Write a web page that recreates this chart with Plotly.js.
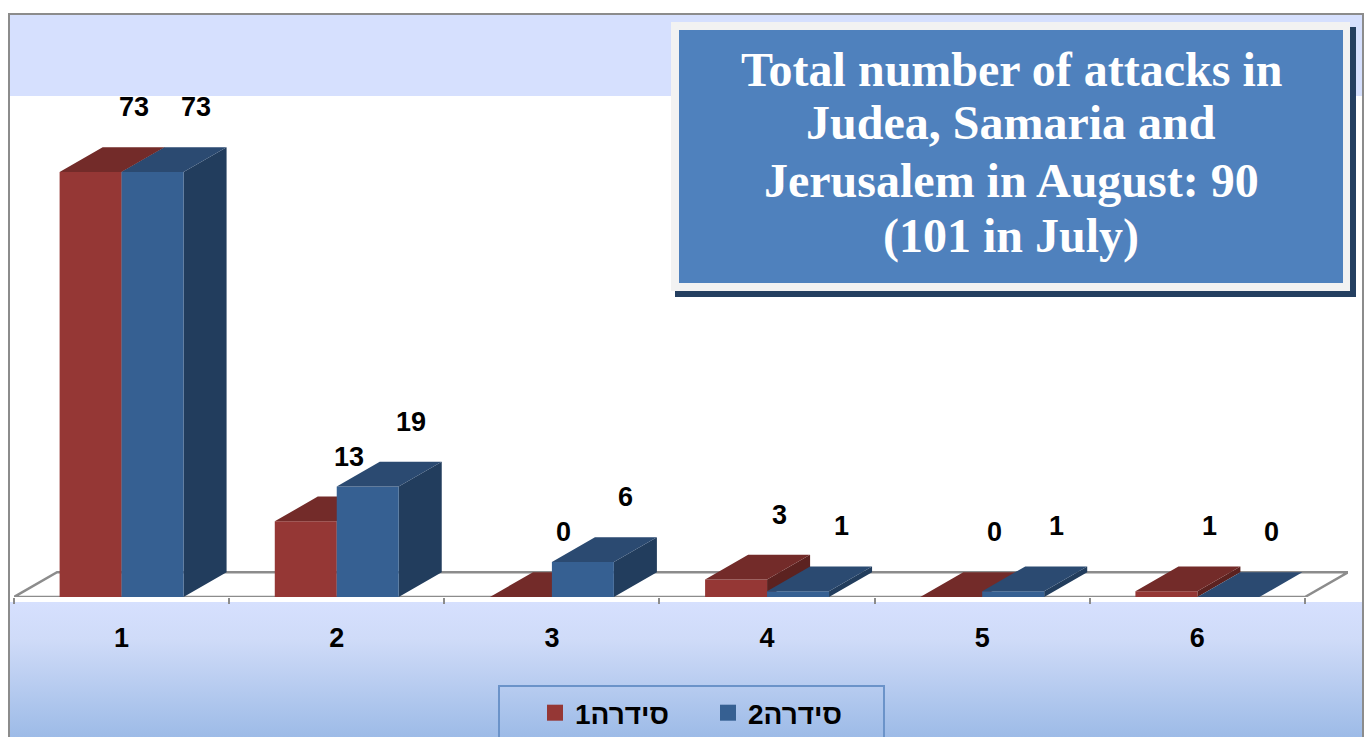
<!DOCTYPE html>
<html>
<head>
<meta charset="utf-8">
<script src="https://cdn.plot.ly/plotly-3.0.1.min.js"></script>
<style>
  body { margin: 0; background: #fff; }
  #wrap { position: relative; width: 1367px; height: 737px; overflow: hidden; }
  #frame {
    position: absolute; left: 8px; top: 13px; width: 1356px; height: 730px;
    box-sizing: border-box; border: 2px solid #8c8c8c; border-bottom: none;
    background: linear-gradient(to bottom,
      #d6e0fe 0px, #d6e0fe 81px, #ffffff 81px, #ffffff 587px,
      #d6e0fe 587px, #cfdbf8 625px, #9dbbe7 722px);
  }
  #grafico { position: absolute; left: 0; top: 0; width: 1367px; height: 737px; }
</style>
</head>
<body>
<div id="wrap">
  <div id="frame"></div>
  <div id="grafico"></div>
</div>
<script>
// Ataques por categoria, duas séries (rótulos padrão do Excel em hebraico)
const categorias = [1, 2, 3, 4, 5, 6];
const serie1 = [73, 13, 0, 3, 0, 1];
const serie2 = [73, 19, 6, 1, 1, 0];
const nomes = ["סידרה1", "סידרה2"];
const tituloLinhas = [
  "Total number of attacks in",
  "Judea, Samaria and",
  "Jerusalem in August: 90",
  "(101 in July)"
];

// geometria do "3D" (em unidades de eixo)
const LARG = 0.288;   // largura de cada barra
const DX = 0.2;       // profundidade horizontal
const DY = 4.25;      // profundidade vertical
const margem = { l: 14, r: 19, t: 96, b: 140 };
const W = 1367 - margem.l - margem.r;
const H = 737 - margem.t - margem.b;
const yMax = 86.05;

const cores = [
  { frente: "#953735", topo: "#732b29", lado: "#5c2220" },
  { frente: "#366092", topo: "#2b4a71", lado: "#223d5d" }
];

// pixel -> coordenada paper
function px(x) { return (x - margem.l) / W; }
function py(y) { return (737 - margem.b - y) / H; }

function poligonos(valores, desloc, face) {
  const xs = [], ys = [];
  categorias.forEach((c, i) => {
    const v = valores[i];
    const x0 = c + desloc, x1 = x0 + LARG;
    let pts;
    if (face === "frente") pts = [[x0, 0], [x1, 0], [x1, v], [x0, v]];
    if (face === "topo") pts = [[x0, v], [x1, v], [x1 + DX, v + DY], [x0 + DX, v + DY]];
    if (face === "lado") pts = [[x1, 0], [x1 + DX, DY], [x1 + DX, v + DY], [x1, v]];
    pts.forEach(p => { xs.push(p[0]); ys.push(p[1]); });
    xs.push(null); ys.push(null);
  });
  return { xs, ys };
}

const data = [];

// piso
data.push({
  x: [0.5, 6.5, 6.5 + DX, 0.5 + DX, 0.5],
  y: [0, 0, DY, DY, 0],
  type: "scatter", mode: "lines", fill: "toself", fillcolor: "#ffffff",
  line: { color: "#8c8c8c", width: 2.5 },
  hoverinfo: "skip", showlegend: false
});

[serie1, serie2].forEach((valores, s) => {
  const desloc = s === 0 ? -LARG : 0;
  ["lado", "frente", "topo"].forEach(face => {
    const p = poligonos(valores, desloc, face);
    data.push({
      x: p.xs, y: p.ys, type: "scatter", mode: "lines",
      fill: "toself", fillcolor: cores[s][face],
      line: { width: 0, color: cores[s][face] },
      legendgroup: "s" + s, showlegend: false, hoverinfo: "skip"
    });
  });
});

// entradas da legenda
nomes.forEach((nome, s) => {
  data.push({
    x: [null], y: [null], type: "scatter", mode: "markers", name: nome,
    marker: { symbol: "square", size: 16, color: cores[s].frente },
    legendgroup: "s" + s
  });
});

// eixo auxiliar só para os traços nos limites das categorias
data.push({
  x: [0.5], y: [0], xaxis: "x2", type: "scatter", mode: "markers",
  marker: { opacity: 0 }, showlegend: false, hoverinfo: "skip"
});

const fonteRotulo = { family: "Liberation Sans, Arial, sans-serif", size: 27, color: "#000" };
const annotations = [];
[serie1, serie2].forEach((valores, s) => {
  categorias.forEach((c, i) => {
    const centro = c + (s === 0 ? -LARG / 2 : LARG / 2);
    annotations.push({
      x: centro + DX, y: valores[i] + DY, xref: "x", yref: "y",
      text: "<b>" + valores[i] + "</b>", showarrow: false,
      yanchor: "middle", yshift: 40, font: fonteRotulo
    });
  });
});

const linhasY = [70, 123, 180, 236];
tituloLinhas.forEach((t, i) => {
  annotations.push({
    x: px(1011), y: py(linhasY[i]), xref: "paper", yref: "paper",
    text: "<b>" + t + "</b>", showarrow: false,
    xanchor: "center", yanchor: "middle",
    font: { family: "Liberation Serif, Times New Roman, serif", size: 48, color: "#ffffff" }
  });
});

const shapes = [
  { type: "rect", xref: "paper", yref: "paper", x0: px(675), x1: px(1356), y0: py(297), y1: py(27),
    fillcolor: "#243f60", line: { width: 0 } },
  { type: "rect", xref: "paper", yref: "paper", x0: px(671), x1: px(1350), y0: py(291), y1: py(22),
    fillcolor: "#f2f2f2", line: { width: 0 } },
  { type: "rect", xref: "paper", yref: "paper", x0: px(679), x1: px(1343), y0: py(283), y1: py(30),
    fillcolor: "#4f81bd", line: { width: 0 } },
  // moldura da legenda
  { type: "rect", xref: "paper", yref: "paper", x0: px(499), x1: px(884), y0: py(745), y1: py(686),
    fillcolor: "rgba(0,0,0,0)", line: { width: 2, color: "#6b93c9" } }
];

const layout = {
  width: 1367, height: 737,
  margin: margem,
  paper_bgcolor: "rgba(0,0,0,0)",
  plot_bgcolor: "rgba(0,0,0,0)",
  showlegend: true,
  xaxis: {
    range: [0.5, 6.5 + DX], tickvals: categorias, ticktext: categorias.map(String),
    ticks: "", showgrid: false, zeroline: false, showline: false,
    ticklabelstandoff: 22, fixedrange: true,
    tickfont: { family: "Liberation Sans, Arial, sans-serif", size: 27, color: "#000", weight: "bold" }
  },
  xaxis2: {
    overlaying: "x", anchor: "y", side: "bottom", range: [0.5, 6.5 + DX],
    tickvals: [0.5, 1.5, 2.5, 3.5, 4.5, 5.5, 6.5], showticklabels: false,
    ticks: "outside", ticklen: 6, tickwidth: 2, tickcolor: "#8c8c8c",
    showgrid: false, zeroline: false, showline: false
  },
  yaxis: { range: [0, yMax], visible: false, fixedrange: true },
  legend: {
    orientation: "h", xref: "container", yref: "container",
    x: 535 / 1367, y: 1 - 688 / 737, xanchor: "left", yanchor: "top",
    entrywidth: 128,
    bgcolor: "rgba(0,0,0,0)", borderwidth: 0,
    font: { family: "Liberation Sans, Arial, sans-serif", size: 28, color: "#000", weight: "bold" }
  },
  annotations: annotations,
  shapes: shapes
};

Plotly.newPlot("grafico", data, layout, { displayModeBar: false, staticPlot: true });
</script>
</body>
</html>
